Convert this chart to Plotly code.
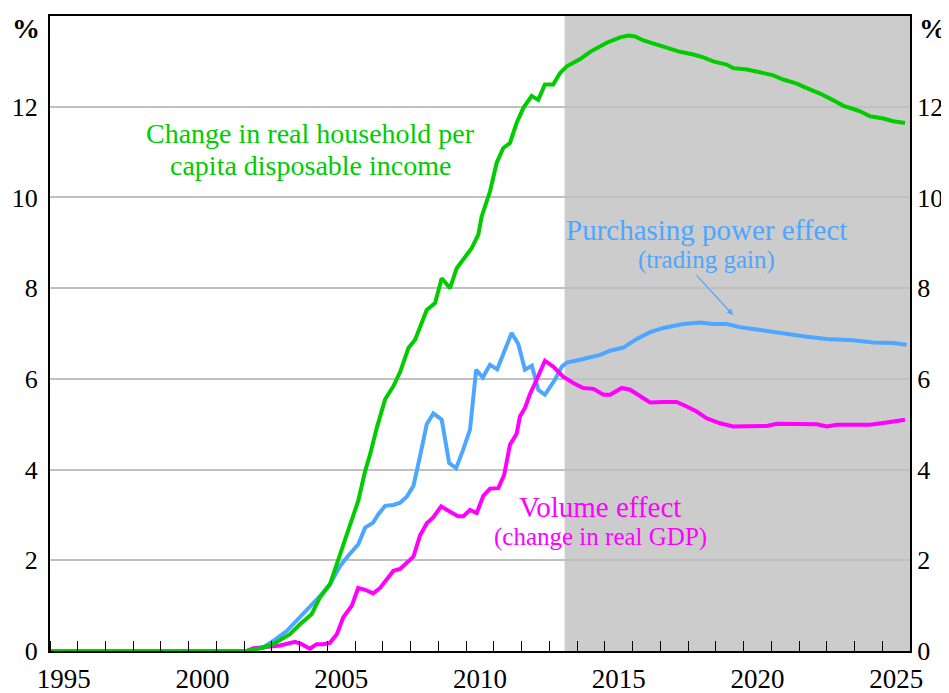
import plotly.graph_objects as go

# ---- data ----
income_x = [1995.0, 2002.09, 2002.68, 2003.04, 2003.65, 2004.01, 2004.43, 2004.73, 2005.09, 2005.34,
            2005.63, 2005.93, 2006.11, 2006.36, 2006.54, 2006.78, 2007.08, 2007.38, 2007.62, 2007.92,
            2008.16, 2008.58, 2008.88, 2009.12, 2009.42, 2009.66, 2009.90, 2010.20, 2010.44, 2010.56,
            2010.86, 2011.10, 2011.34, 2011.58, 2011.82, 2012.06, 2012.36, 2012.60, 2012.84, 2013.14,
            2013.38, 2013.63, 2014.11, 2014.47, 2015.07, 2015.55, 2015.85, 2016.09, 2016.39, 2016.87,
            2017.35, 2017.71, 2018.19, 2018.55, 2018.91, 2019.39, 2019.63, 2020.12, 2020.59, 2021.07,
            2021.43, 2021.92, 2022.28, 2022.76, 2023.24, 2023.60, 2023.96, 2024.20, 2024.56, 2025.04,
            2025.40, 2025.82]
income_y = [0.0, 0.0, 0.07, 0.15, 0.37, 0.59, 0.81, 1.18, 1.47, 1.91,
            2.43, 2.94, 3.31, 3.97, 4.34, 4.92, 5.55, 5.84, 6.15, 6.68,
            6.86, 7.52, 7.67, 8.22, 8.00, 8.44, 8.63, 8.88, 9.18, 9.58,
            10.13, 10.76, 11.09, 11.20, 11.64, 11.97, 12.24, 12.15, 12.49, 12.49,
            12.74, 12.89, 13.05, 13.21, 13.41, 13.53, 13.57, 13.55, 13.46, 13.37,
            13.30, 13.21, 13.15, 13.09, 13.00, 12.93, 12.85, 12.82, 12.76, 12.69,
            12.60, 12.51, 12.41, 12.29, 12.14, 12.02, 11.95, 11.90, 11.79, 11.74,
            11.68, 11.64]

trading_x = [1995.0, 2002.09, 2002.68, 2003.04, 2003.53, 2004.01, 2004.43, 2004.79, 2005.09, 2005.45,
             2005.75, 2006.11, 2006.36, 2006.65, 2006.83, 2007.08, 2007.38, 2007.62, 2007.86, 2008.10,
             2008.34, 2008.58, 2008.82, 2009.12, 2009.39, 2009.64, 2009.90, 2010.14, 2010.36, 2010.60,
             2010.86, 2011.12, 2011.40, 2011.64, 2011.88, 2012.12, 2012.37, 2012.60, 2012.84, 2013.20,
             2013.45, 2013.63, 2014.11, 2014.83, 2015.19, 2015.67, 2016.15, 2016.63, 2017.11, 2017.83,
             2018.43, 2018.91, 2019.39, 2019.87, 2020.35, 2021.07, 2021.68, 2022.28, 2023.00, 2023.96,
             2024.68, 2025.40, 2025.88]
trading_y = [0.0, 0.0, 0.08, 0.22, 0.44, 0.74, 1.00, 1.25, 1.47, 1.87,
             2.10, 2.35, 2.72, 2.83, 3.01, 3.20, 3.22, 3.27, 3.40, 3.64,
             4.30, 5.00, 5.24, 5.10, 4.14, 4.03, 4.45, 4.88, 6.20, 6.03,
             6.31, 6.21, 6.64, 7.01, 6.77, 6.20, 6.29, 5.76, 5.65, 5.98,
             6.27, 6.36, 6.42, 6.53, 6.62, 6.69, 6.88, 7.03, 7.12, 7.21,
             7.24, 7.21, 7.21, 7.14, 7.10, 7.03, 6.99, 6.93, 6.88, 6.85,
             6.80, 6.79, 6.75]

volume_x = [1995.0, 2002.09, 2002.33, 2002.69, 2003.29, 2003.83, 2004.07, 2004.37, 2004.61, 2004.85,
            2005.09, 2005.34, 2005.57, 2005.88, 2006.11, 2006.36, 2006.65, 2006.90, 2007.14, 2007.38,
            2007.62, 2007.86, 2008.10, 2008.34, 2008.59, 2008.82, 2009.10, 2009.42, 2009.71, 2009.90,
            2010.14, 2010.38, 2010.62, 2010.86, 2011.16, 2011.37, 2011.58, 2011.82, 2011.94, 2012.12,
            2012.30, 2012.54, 2012.84, 2013.14, 2013.50, 2013.86, 2014.22, 2014.59, 2014.95, 2015.19,
            2015.61, 2015.91, 2016.27, 2016.63, 2017.11, 2017.59, 2017.95, 2018.31, 2018.67, 2019.15,
            2019.63, 2020.35, 2020.84, 2021.20, 2021.92, 2022.64, 2023.00, 2023.36, 2023.96, 2024.56,
            2025.16, 2025.82]
volume_y = [0.0, 0.0, 0.06, 0.09, 0.12, 0.20, 0.15, 0.05, 0.15, 0.15,
            0.18, 0.37, 0.74, 1.00, 1.39, 1.35, 1.27, 1.39, 1.59, 1.77,
            1.81, 1.96, 2.08, 2.55, 2.82, 2.95, 3.19, 3.07, 2.97, 2.97,
            3.11, 3.04, 3.42, 3.58, 3.59, 3.88, 4.55, 4.79, 5.17, 5.36,
            5.66, 5.98, 6.40, 6.27, 6.05, 5.91, 5.80, 5.78, 5.65, 5.65,
            5.80, 5.76, 5.61, 5.48, 5.49, 5.49, 5.39, 5.28, 5.13, 5.02,
            4.95, 4.95, 4.96, 5.01, 5.01, 5.00, 4.95, 4.99, 4.99, 4.99,
            5.04, 5.10]

year_labels = ["1995", "2000", "2005", "2010", "2015", "2020", "2025"]
year_label_pos = [1995.5, 2000.5, 2005.5, 2010.5, 2015.5, 2020.5, 2025.5]
year_ticks = list(range(1995, 2027))
y_ticks = [0, 2, 4, 6, 8, 10, 12]
forecast_start = 2013.55
x_range = [1995, 2026]
y_range = [0, 14]

GREEN = "#00CC00"
BLUE = "#4DA6FF"
MAGENTA = "#FF00FF"
FONT = "Liberation Serif, Times New Roman, serif"

fig = go.Figure()
fig.add_trace(go.Scatter(x=trading_x, y=trading_y, mode="lines",
                         line=dict(color=BLUE, width=4), name="Purchasing power effect"))
fig.add_trace(go.Scatter(x=volume_x, y=volume_y, mode="lines",
                         line=dict(color=MAGENTA, width=4), name="Volume effect"))
fig.add_trace(go.Scatter(x=income_x, y=income_y, mode="lines",
                         line=dict(color=GREEN, width=4), name="Change in real household income"))
# invisible trace to activate right axis
fig.add_trace(go.Scatter(x=[x_range[0]], y=[0], yaxis="y2", mode="markers",
                         marker=dict(opacity=0), showlegend=False, hoverinfo="skip"))

fig.add_shape(type="rect", xref="x", yref="y", x0=forecast_start, x1=x_range[1],
              y0=y_range[0], y1=y_range[1], fillcolor="#CCCCCC", line=dict(width=0), layer="below")

y_tick_font = dict(family=FONT, size=26, color="black")
x_tick_font = dict(family=FONT, size=27, color="black")

# the page body has an 8px margin, so the figure is 8px smaller than the window
fig.update_layout(
    width=941, height=685,
    margin=dict(l=42, r=39, t=8, b=42, autoexpand=False),
    paper_bgcolor="white", plot_bgcolor="white",
    showlegend=False,
    font=dict(family=FONT, color="black", size=26),
    xaxis=dict(range=x_range, tickmode="array", tickvals=year_label_pos, ticktext=year_labels,
               ticks="", showgrid=False, zeroline=False, showline=True, linecolor="black",
               linewidth=2, mirror=True, tickfont=x_tick_font, automargin=False,
               ticklabelstandoff=3,
               minor=dict(tickmode="array", tickvals=year_ticks, ticks="inside", ticklen=10,
                          tickcolor="black", tickwidth=1, showgrid=False)),
    yaxis=dict(range=y_range, tickmode="array", tickvals=y_ticks, ticks="", showgrid=True,
               gridcolor="#C0C0C0", gridwidth=1.5, zeroline=False, showline=True, linecolor="black",
               linewidth=2, tickfont=y_tick_font, ticklabelstandoff=5, automargin=False),
    yaxis2=dict(range=y_range, overlaying="y", side="right", tickmode="array", tickvals=y_ticks,
                ticks="", showgrid=False, zeroline=False, showline=True, linecolor="black",
                linewidth=2, tickfont=y_tick_font, ticklabelstandoff=0, automargin=False),
)

# "%" unit labels
fig.add_annotation(text="<b>%</b>", xref="paper", yref="paper", x=-0.028, y=0.981,
                   xanchor="center", yanchor="middle", showarrow=False,
                   font=dict(family=FONT, size=28, color="black"))
fig.add_annotation(text="<b>%</b>", xref="paper", yref="paper", x=1.0273, y=0.981,
                   xanchor="center", yanchor="middle", showarrow=False,
                   font=dict(family=FONT, size=28, color="black"))

# series labels
fig.add_annotation(text="Change in real household per", x=2004.4, y=11.41, xref="x", yref="y",
                   showarrow=False, font=dict(family=FONT, size=28, color=GREEN))
fig.add_annotation(text="capita disposable income", x=2004.4, y=10.7, xref="x", yref="y",
                   showarrow=False, font=dict(family=FONT, size=28, color=GREEN))
fig.add_annotation(text="Purchasing power effect", x=2018.68, y=9.29, xref="x", yref="y",
                   showarrow=False, font=dict(family=FONT, size=29, color=BLUE))
fig.add_annotation(text="(trading gain)", x=2018.68, y=8.63, xref="x", yref="y",
                   showarrow=False, font=dict(family=FONT, size=25, color=BLUE))
fig.add_annotation(x=2019.62, y=7.41, ax=2018.25, ay=8.32, xref="x", yref="y", axref="x", ayref="y",
                   text="", showarrow=True, arrowhead=2, arrowsize=1, arrowwidth=1.2,
                   arrowcolor=BLUE)
fig.add_annotation(text="Volume effect", x=2014.83, y=3.18, xref="x", yref="y",
                   showarrow=False, font=dict(family=FONT, size=29, color=MAGENTA))
fig.add_annotation(text="(change in real GDP)", x=2014.83, y=2.51, xref="x", yref="y",
                   showarrow=False, font=dict(family=FONT, size=25, color=MAGENTA))

fig.write_html("out.html")
